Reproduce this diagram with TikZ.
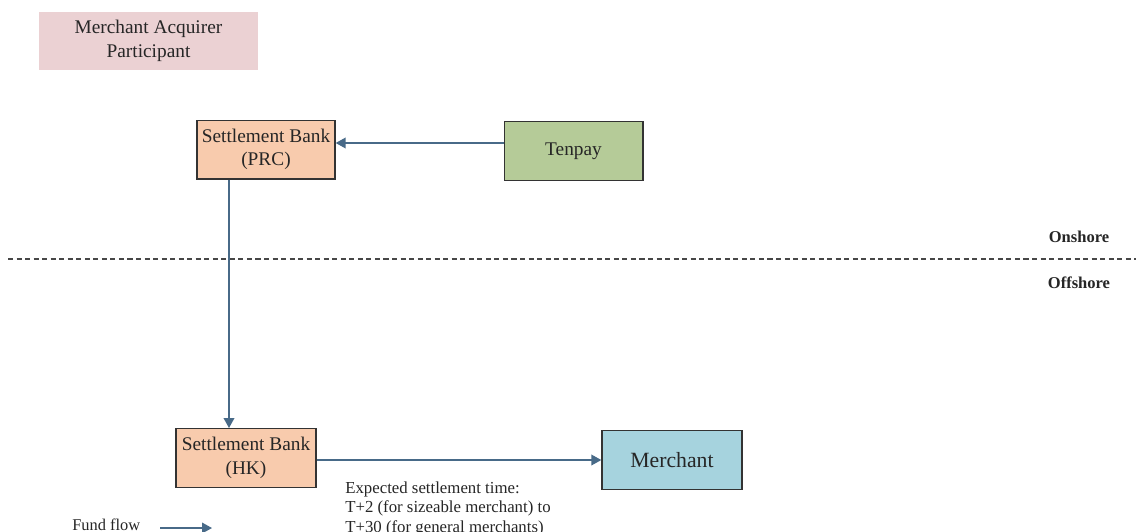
\documentclass[tikz,border=0pt]{standalone}
\usepackage{fontspec}
\setmainfont{Liberation Serif}
\usetikzlibrary{arrows.meta}
\definecolor{pinkfill}{HTML}{EBD1D3}
\definecolor{bankfill}{HTML}{F8CBAD}
\definecolor{tenfill}{HTML}{B5CB98}
\definecolor{merfill}{HTML}{A6D3DE}
\definecolor{flowcol}{HTML}{486A88}
\definecolor{edgecol}{HTML}{333333}
\definecolor{txt}{HTML}{262626}
\tikzset{
  box/.style={draw=edgecol, line width=1pt, align=center, text=txt, inner sep=0pt,
    font=\fontsize{14.5}{17.5}\selectfont},
  bankbox/.style={box, fill=bankfill, minimum width=103.5pt, minimum height=44pt},
  flow/.style={draw=flowcol, line width=1.1pt, -{Triangle[length=7.5pt,width=8pt]}},
  regionlbl/.style={font=\fontsize{12.4}{14}\selectfont\bfseries, text=txt, inner sep=0pt},
  sepline/.style={draw=edgecol!90, line width=0.8pt, dash pattern=on 3.8pt off 2.6pt}
}
\begin{document}
\begin{tikzpicture}[x=0.75pt, y=-0.75pt]
\useasboundingbox (0,0) rectangle (1136,532);
\clip (0,0) rectangle (1136,532);
\fill[white] (0,0) rectangle (1136,532);
% legend box
\node[box, draw=none, fill=pinkfill, minimum width=164.25pt, minimum height=43.5pt] (map) at (148.5,41) {Merchant Acquirer\\Participant};
% nodes
\node[bankbox] (prc) at (266,149.5) {Settlement Bank\\(PRC)};
\node[box, fill=tenfill, minimum width=104pt, minimum height=44pt] (tp) at (573.5,151) {Tenpay};
\node[bankbox, minimum width=105pt] (hk) at (246,458) {Settlement Bank\\(HK)};
\node[box, fill=merfill, minimum width=105pt, minimum height=44pt, font=\fontsize{16.3}{19}\selectfont] (mer) at (672,460) {Merchant};
% separator
\coordinate (dl) at (8,259);
\coordinate (dr) at (1136,259);
\draw[sepline] (dl) -- (dr);
\node[regionlbl] (on) at (1079,237) {Onshore};
\node[regionlbl] (off) at (1079,283) {Offshore};
% connectors
\coordinate (hy) at (0,143);
\coordinate (vx) at (229,0);
\coordinate (my) at (0,460);
\draw[flow] (tp.west |- hy) -- (prc.east |- hy);
\draw[flow] (prc.south -| vx) -- (hk.north -| vx);
\draw[flow] (hk.east |- my) -- (mer.west |- my);
% annotation
\node[anchor=north west, align=left, inner sep=0pt, text=txt, font=\fontsize{12.6}{14.3}\selectfont] (note) at (345,482) {Expected settlement time:\\T+2 (for sizeable merchant) to\\T+30 (for general merchants)};
% legend
\node[anchor=base west, inner sep=0pt, text=txt, font=\fontsize{12.3}{14}\selectfont] (ff) at (72,530) {Fund flow};
\coordinate (fa) at (160,528);
\coordinate (fb) at (212,528);
\draw[flow] (fa) -- (fb);
\end{tikzpicture}
\end{document}
